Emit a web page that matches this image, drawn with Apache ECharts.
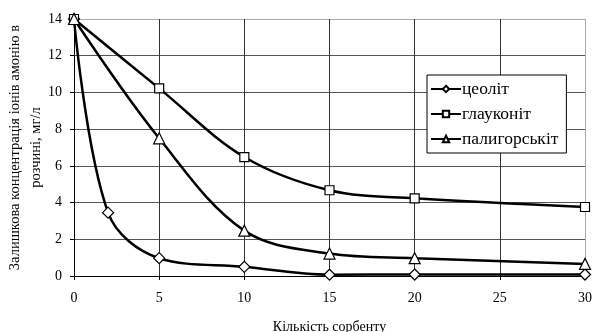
<!DOCTYPE html>
<html>
<head>
<meta charset="utf-8">
<script src="https://cdn.jsdelivr.net/npm/echarts@6/dist/echarts.min.js"></script>
<style>
  html, body { margin: 0; padding: 0; background: #fff; }
  #chart { width: 593px; height: 332px; }
</style>
</head>
<body>
<div id="chart"></div>
<script>
// кількість сорбенту та залишкова концентрація
const zeolite = [[0, 14], [2, 3.45], [5, 0.97], [10, 0.5], [15, 0.07], [20, 0.08], [30, 0.08]];
const glauconite = [[0, 14], [5, 10.22], [10, 6.48], [15, 4.67], [20, 4.23], [30, 3.76]];
const palygorskite = [[0, 14], [5, 7.5], [10, 2.47], [15, 1.22], [20, 0.97], [30, 0.66]];
const seriesNames = ['цеоліт', 'глауконіт', 'палигорськіт'];

const font = '"Liberation Serif", "Times New Roman", serif';
const myChart = echarts.init(document.getElementById('chart'));

const mkSeries = (name, data, symbol, size) => ({
    name: name,
    type: 'line',
    data: data,
    smooth: 0.35,
    symbol: symbol,
    symbolSize: size,
    showAllSymbol: true,
    lineStyle: { color: '#000', width: 2.5 },
    itemStyle: { color: '#fff', borderColor: '#000', borderWidth: 1.2 },
    emphasis: { disabled: true },
    z: 3,
});

myChart.setOption({
    animation: false,
    backgroundColor: '#fff',
    grid: { left: 74, right: 8, top: 19, bottom: 56, containLabel: false, outerBoundsMode: 'none' },
    legend: {
        orient: 'vertical',
        left: 427,
        top: 75,
        data: seriesNames,
        backgroundColor: '#fff',
        borderColor: '#000',
        borderWidth: 1,
        borderRadius: 0,
        padding: [5, 8, 5, 3],
        itemWidth: 30,
        itemHeight: 8,
        itemGap: 7,
        textStyle: { fontFamily: font, fontSize: 17.5, color: '#000', padding: [0, 0, 0, -4] },
    },
    xAxis: {
        type: 'value',
        min: 0,
        max: 30,
        interval: 5,
        name: 'Кількість сорбенту',
        nameLocation: 'middle',
        nameGap: 44,
        nameMoveOverlap: false,
        nameTextStyle: { fontFamily: font, fontSize: 14, color: '#000' },
        axisLine: { lineStyle: { color: '#000', width: 1 } },
        axisTick: { show: true, length: 4, lineStyle: { color: '#000' } },
        axisLabel: { fontFamily: font, fontSize: 14, color: '#000', margin: 15 },
        splitLine: {
            show: true,
            lineStyle: { color: ['#000', '#333', '#333', '#333', '#333', '#333', '#aaa'], width: 1 },
        },
    },
    yAxis: {
        type: 'value',
        min: 0,
        max: 14,
        interval: 2,
        name: 'Залишкова концентрація іонів амонію в\nрозчині, мг/л',
        nameLocation: 'middle',
        nameGap: 27,
        nameMoveOverlap: false,
        nameTextStyle: { fontFamily: font, fontSize: 14.5, color: '#000', lineHeight: 21 },
        axisLine: { show: true, lineStyle: { color: '#000', width: 1 } },
        axisTick: { show: true, length: 4, lineStyle: { color: '#000' } },
        axisLabel: { fontFamily: font, fontSize: 14, color: '#000', margin: 12 },
        splitLine: {
            show: true,
            lineStyle: { color: ['#000', '#555', '#555', '#555', '#555', '#555', '#555', '#aaa'], width: 1 },
        },
    },
    series: [
        mkSeries(seriesNames[0], zeolite, 'diamond', 11),
        mkSeries(seriesNames[1], glauconite, 'rect', 9),
        mkSeries(seriesNames[2], palygorskite, 'triangle', 11),
    ],
});
window.addEventListener('resize', () => {
    myChart.resize();
});
</script>
</body>
</html>
